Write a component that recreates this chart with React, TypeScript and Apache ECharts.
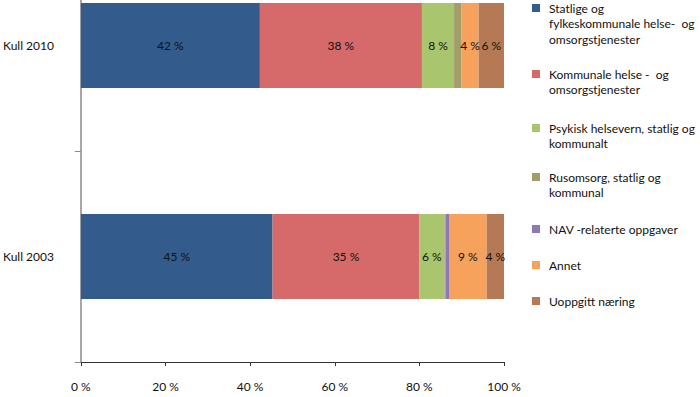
import React, { useEffect, useRef } from "react";
import * as echarts from "echarts";

const categories = ["Kull 2010", "Kull 2003"];
const seriesNames = [
  "Statlige og fylkeskommunale helse- og omsorgstjenester",
  "Kommunale helse- og omsorgstjenester",
  "Psykisk helsevern, statlig og kommunalt",
  "Rusomsorg, statlig og kommunal",
  "NAV-relaterte oppgaver",
  "Annet",
  "Uoppgitt næring",
];
const legendLines = [
  ["Statlige og", "fylkeskommunale helse-  og", "omsorgstjenester"],
  ["Kommunale helse -  og", "omsorgstjenester"],
  ["Psykisk helsevern, statlig og", "kommunalt"],
  ["Rusomsorg, statlig og", "kommunal"],
  ["NAV -relaterte oppgaver"],
  ["Annet"],
  ["Uoppgitt næring"],
];
const statlige = [42.3, 45.3];
const kommunale = [38.3, 34.7];
const psykisk = [7.6, 5.9];
const rusomsorg = [1.7, 0.3];
const nav = [0.1, 0.8];
const annet = [4.0, 8.9];
const uoppgitt = [6.0, 4.1];
const xTicks = [0, 20, 40, 60, 80, 100];

const seriesValues = [statlige, kommunale, psykisk, rusomsorg, nav, annet, uoppgitt];
const colors = ["#335B8C", "#D66A6A", "#A9C66F", "#A39C6B", "#8E79B8", "#F6A25C", "#B57A55"];
const legendCenters = [8, 74, 128, 177, 229, 265, 301];

const FONT = "Lato, 'Noto Sans', sans-serif";
const LH = 15.5;
const SHIFT = 60; // plot area extends above the visible picture

export default function App() {
  const ref = useRef<HTMLDivElement>(null);
  useEffect(() => {
    if (!ref.current) return;
    const chart = echarts.init(ref.current, null, { renderer: "svg" });
    const legends = seriesNames.map((name, i) => {
      const n = legendLines[i].length;
      return {
        orient: "vertical",
        left: 532,
        top: SHIFT + legendCenters[i] - ((2 * n - 1) * LH) / 2,
        padding: 0,
        itemWidth: 8,
        itemHeight: 8,
        icon: "rect",
        selectedMode: false,
        data: [name],
        formatter: () => "\n".repeat(n - 1) + legendLines[i].join("\n"),
        textStyle: {
          fontFamily: FONT,
          fontSize: 12,
          color: "#111",
          lineHeight: LH,
          padding: [0, 0, 0, 4],
        },
      };
    });
    chart.setOption({
      animation: false,
      color: colors,
      textStyle: { fontFamily: FONT },
      grid: { left: 75, right: 196, top: 0, bottom: 35, containLabel: false },
      legend: legends,
      xAxis: {
        type: "value",
        min: xTicks[0],
        max: xTicks[xTicks.length - 1],
        interval: 20,
        splitLine: { show: false },
        axisLine: { show: true, lineStyle: { color: "#333", width: 1 } },
        axisTick: { show: true, length: 4, lineStyle: { color: "#333" } },
        axisLabel: {
          formatter: "{value} %",
          fontSize: 12,
          color: "#111",
          margin: 18,
          fontFamily: FONT,
        },
      },
      yAxis: {
        type: "category",
        inverse: true,
        data: categories,
        axisLine: { show: true, lineStyle: { color: "#8a8a8a", width: 1.5 } },
        axisTick: { show: true, length: 6, lineStyle: { color: "#8a8a8a" } },
        axisLabel: { fontSize: 12, color: "#111", margin: 27, fontFamily: FONT },
      },
      series: seriesNames.map((name, i) => ({
        name,
        type: "bar",
        stack: "total",
        barWidth: 85,
        data: seriesValues[i],
        itemStyle: { color: colors[i] },
        label: {
          show: true,
          position: "inside",
          color: "#111",
          fontSize: 12,
          fontFamily: FONT,
          formatter: (p: any) => (p.value >= 3 ? Math.round(p.value) + " %" : ""),
        },
      })),
    });
    return () => chart.dispose();
  }, []);
  return (
    <div
      ref={ref}
      style={{ width: 700, height: 397 + SHIFT, position: "absolute", left: 0, top: -SHIFT }}
    />
  );
}
